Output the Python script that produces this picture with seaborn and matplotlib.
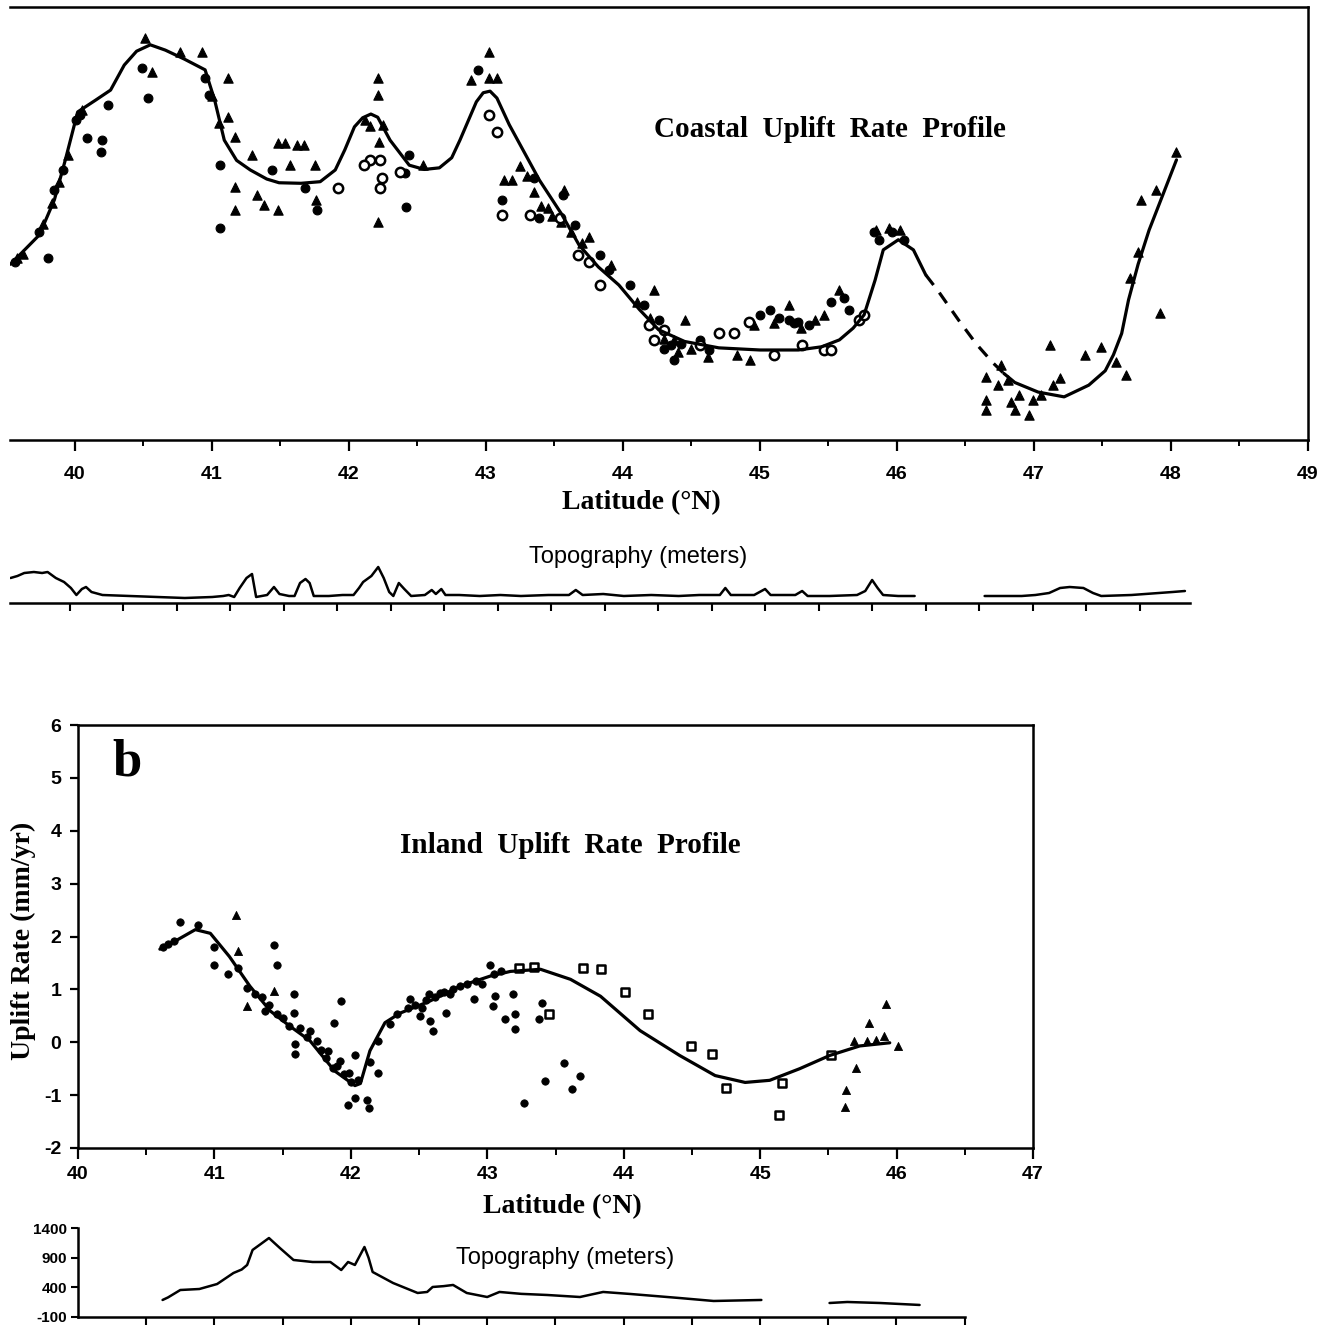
import numpy as np
import pandas as pd
import seaborn as sns
import matplotlib
matplotlib.use("Agg")
import matplotlib.pyplot as plt
from matplotlib.ticker import MultipleLocator

# ---------------- data: coastal profile (a) ----------------
coast_curve_lat = [39.53, 39.56, 39.74, 39.85, 39.93, 40.02, 40.15, 40.26, 40.36, 40.45, 40.55,
                   40.66, 40.80, 40.95, 41.02, 41.09, 41.18, 41.28, 41.40, 41.49, 41.65, 41.79,
                   41.90, 41.97, 42.04, 42.10, 42.16, 42.21, 42.30, 42.44, 42.55, 42.66, 42.75,
                   42.81, 42.88, 42.93, 42.98, 43.03, 43.08, 43.17, 43.28, 43.39, 43.55, 43.68,
                   43.82, 43.97, 44.12, 44.26, 44.45, 44.70, 45.00, 45.28, 45.45, 45.58, 45.68,
                   45.76, 45.84, 45.90, 46.01, 46.12, 46.21]
coast_curve_rate = [1.30, 1.38, 1.85, 2.51, 3.26, 4.16, 4.38, 4.57, 5.04, 5.30, 5.42,
                    5.32, 5.15, 4.95, 4.38, 3.63, 3.25, 3.07, 2.90, 2.83, 2.82, 2.85,
                    3.07, 3.45, 3.88, 4.05, 4.12, 4.06, 3.63, 3.16, 3.08, 3.11, 3.30,
                    3.63, 4.05, 4.35, 4.52, 4.55, 4.42, 3.92, 3.40, 2.88, 2.25, 1.66,
                    1.25, 0.91, 0.45, 0.07, -0.15, -0.27, -0.31, -0.31, -0.25, -0.12, 0.10,
                    0.35, 1.00, 1.57, 1.76, 1.57, 1.10]
coast_gap_lat = [46.21, 46.30, 46.45, 46.58, 46.70, 46.78]
coast_gap_rate = [1.10, 0.80, 0.25, -0.20, -0.55, -0.75]
coast_end_lat = [46.78, 46.86, 47.03, 47.22, 47.40, 47.52, 47.58, 47.64, 47.69, 47.76, 47.84,
                 47.94, 48.04]
coast_end_rate = [-0.75, -0.92, -1.10, -1.19, -0.97, -0.70, -0.40, 0.00, 0.63, 1.30, 1.94,
                  2.60, 3.26]

coast_tri_lat = [40.51, 40.56, 40.77, 40.93, 41.12, 41.12, 41.17, 41.29, 41.17, 41.17, 41.33,
                 41.38, 41.48, 41.48, 41.53, 41.62, 41.67, 41.57, 41.75, 41.76, 42.21, 42.21,
                 42.25, 42.22, 42.21, 42.54, 43.02, 42.89, 43.02, 43.08, 43.13, 43.19, 43.57,
                 43.75, 43.91, 44.23, 44.45, 44.93, 44.37, 44.83, 45.58, 45.47, 45.21, 44.96,
                 45.85, 45.94, 46.02, 46.65, 46.65, 46.65, 46.74, 46.76, 46.81, 46.83, 46.86,
                 46.96, 46.89, 46.99, 47.05, 47.14, 47.12, 47.19, 47.37, 47.49, 47.67, 47.60,
                 47.70, 47.76, 47.78, 47.89, 47.92, 48.04,
                 39.58, 39.62, 39.77, 39.83, 39.88, 39.95, 40.05, 41.00, 41.05, 43.25, 43.30,
                 43.35, 43.45, 43.55, 43.62, 43.70, 44.10, 44.20, 44.30, 44.40, 44.50, 44.62,
                 42.12, 42.15, 43.40, 43.48, 45.10, 45.30, 45.40]
coast_tri_rate = [5.55, 4.91, 5.29, 5.29, 4.80, 4.07, 3.69, 3.35, 2.75, 2.32, 2.60,
                  2.41, 2.32, 3.58, 3.58, 3.54, 3.54, 3.16, 3.16, 2.51, 4.80, 4.48,
                  3.92, 3.60, 2.09, 3.16, 5.29, 4.76, 4.80, 4.80, 2.88, 2.88, 2.69,
                  1.81, 1.29, 0.82, 0.25, -0.50, -0.12, -0.40, 0.82, 0.35, 0.54, 0.16,
                  1.94, 1.98, 1.94, -0.82, -1.25, -1.44, -0.97, -0.59, -0.87, -1.29, -1.44,
                  -1.53, -1.15, -1.25, -1.15, -0.97, -0.22, -0.84, -0.40, -0.25, -0.78, -0.54,
                  1.04, 1.53, 2.51, 2.69, 0.38, 3.41,
                  1.42, 1.50, 2.05, 2.45, 2.85, 3.35, 4.20, 4.45, 3.95, 3.15, 2.95,
                  2.65, 2.35, 2.10, 1.90, 1.70, 0.60, 0.30, -0.10, -0.35, -0.30, -0.45,
                  4.00, 3.90, 2.40, 2.20, 0.20, 0.10, 0.25]

coast_dot_lat = [39.56, 39.80, 39.74, 39.85, 39.91, 40.01, 40.04, 40.24, 40.20, 40.09, 40.19,
                 40.49, 40.53, 40.95, 40.98, 41.06, 41.06, 41.44, 41.68, 41.77, 42.41, 42.42,
                 42.44, 42.94, 43.12, 43.35, 43.39, 43.56, 43.65, 43.83, 43.90, 44.05, 44.15,
                 44.26, 44.35, 44.37, 44.56, 44.63, 45.07, 45.14, 45.21, 45.28, 45.36, 45.52,
                 45.61, 45.65, 45.83, 45.87, 45.96, 46.05, 44.30, 44.42, 45.00, 45.25]
coast_dot_rate = [1.34, 1.42, 1.91, 2.69, 3.07, 4.01, 4.10, 4.29, 3.63, 3.67, 3.41,
                  4.99, 4.42, 4.80, 4.48, 3.16, 1.98, 3.07, 2.73, 2.32, 3.01, 2.38,
                  3.35, 4.95, 2.51, 2.92, 2.17, 2.60, 2.04, 1.47, 1.19, 0.91, 0.54,
                  0.25, -0.22, -0.50, -0.12, -0.31, 0.44, 0.29, 0.25, 0.22, 0.16, 0.59,
                  0.67, 0.44, 1.91, 1.76, 1.91, 1.76, -0.30, -0.20, 0.35, 0.20]

coast_open_lat = [41.92, 42.15, 42.11, 42.23, 42.24, 42.23, 42.37, 43.02, 43.08, 43.12, 43.32,
                  43.54, 43.67, 43.75, 43.83, 44.19, 44.23, 44.30, 44.56, 44.70, 44.81, 44.92,
                  45.10, 45.31, 45.47, 45.52, 45.72, 45.76]
coast_open_rate = [2.73, 3.26, 3.16, 3.26, 2.92, 2.73, 3.03, 4.10, 3.78, 2.23, 2.23,
                   2.17, 1.47, 1.34, 0.91, 0.16, -0.12, 0.07, -0.22, 0.01, 0.01, 0.22,
                   -0.40, -0.22, -0.31, -0.31, 0.25, 0.35]

coast_topo_lat = [39.53, 39.58, 39.63, 39.70, 39.76, 39.80, 39.86, 39.92, 39.97, 40.01, 40.05,
                  40.08, 40.12, 40.20, 40.40, 40.60, 40.80, 41.00, 41.08, 41.12, 41.16, 41.20,
                  41.25, 41.29, 41.32, 41.40, 41.45, 41.49, 41.56, 41.60, 41.64, 41.68, 41.71,
                  41.74, 41.85, 41.95, 42.03, 42.07, 42.10, 42.16, 42.21, 42.25, 42.29, 42.32,
                  42.36, 42.40, 42.45, 42.55, 42.60, 42.63, 42.67, 42.70, 42.80, 42.95, 43.10,
                  43.25, 43.45, 43.60, 43.65, 43.70, 43.85, 44.00, 44.20, 44.40, 44.55, 44.70,
                  44.74, 44.78, 44.95, 45.03, 45.07, 45.25, 45.30, 45.34, 45.50, 45.70, 45.76,
                  45.81, 45.85, 45.89, 46.00, 46.12]
coast_topo_m = [400, 440, 500, 520, 500, 520, 400, 320, 200, 60, 180,
                220, 120, 60, 40, 20, 0, 20, 40, 60, 20, 200,
                400, 480, 20, 60, 220, 80, 40, 40, 300, 380, 300,
                40, 40, 60, 60, 200, 320, 440, 620, 400, 120, 40,
                300, 180, 40, 60, 160, 80, 180, 60, 60, 40, 60,
                40, 60, 60, 160, 60, 80, 40, 60, 40, 60, 60,
                200, 60, 60, 180, 60, 60, 140, 40, 40, 60, 140,
                360, 200, 60, 40, 40]
coast_topo2_lat = [46.63, 46.90, 47.00, 47.10, 47.18, 47.25, 47.35, 47.42, 47.48, 47.70, 47.90,
                   48.00, 48.09]
coast_topo2_m = [40, 40, 60, 100, 200, 220, 200, 100, 40, 60, 100, 120, 140]

# ---------------- data: inland profile (b) ----------------
inland_curve_lat = [40.60, 40.71, 40.86, 40.97, 41.11, 41.26, 41.41, 41.55, 41.70, 41.88, 42.03,
                    42.07, 42.14, 42.25, 42.36, 42.58, 42.80, 43.02, 43.17, 43.39, 43.61, 43.83,
                    44.12, 44.41, 44.67, 44.89, 45.07, 45.29, 45.51, 45.73, 45.95]
inland_curve_rate = [1.76, 1.91, 2.13, 2.06, 1.62, 1.06, 0.59, 0.31, 0.03, -0.54, -0.82,
                     -0.78, -0.16, 0.37, 0.55, 0.78, 1.06, 1.25, 1.34, 1.38, 1.19, 0.87,
                     0.22, -0.25, -0.63, -0.76, -0.72, -0.50, -0.25, -0.07, -0.01]

inland_dot_lat = [40.62, 40.66, 40.70, 40.75, 40.88, 41.00, 41.00, 41.10, 41.17, 41.24, 41.30,
                  41.37, 41.44, 41.46, 41.46, 41.58, 41.58, 41.59, 41.59, 41.63, 41.70, 41.75,
                  41.83, 41.88, 41.93, 41.87, 41.92, 41.99, 42.03, 42.05, 41.98, 42.03, 42.12,
                  42.13, 42.14, 42.20, 42.20, 42.29, 42.34, 42.43, 42.51, 42.52, 42.58, 42.60,
                  42.57, 42.65, 42.70, 42.73, 42.80, 42.90, 42.96, 43.02, 43.04, 43.06, 43.13,
                  43.19, 43.20, 43.20, 43.38, 43.40, 43.56, 43.68, 43.62, 43.42, 43.27,
                  41.35, 41.40, 41.50, 41.55, 41.68, 41.78, 41.82, 41.90, 41.95, 42.00, 42.42,
                  42.47, 42.55, 42.62, 42.68, 42.75, 42.85, 42.92, 43.05, 43.10]
inland_dot_rate = [1.80, 1.85, 1.92, 2.28, 2.21, 1.81, 1.47, 1.29, 1.40, 1.02, 0.91,
                   0.59, 1.83, 1.47, 0.54, 0.91, 0.55, -0.03, -0.22, 0.27, 0.22, 0.03,
                   -0.16, 0.37, 0.78, -0.48, -0.35, -0.59, -0.25, -0.72, -1.19, -1.06, -1.10,
                   -1.25, -0.38, -0.59, 0.03, 0.35, 0.54, 0.82, 0.50, 0.65, 0.40, 0.22,
                   0.91, 0.93, 0.55, 0.91, 1.06, 0.82, 1.10, 1.47, 0.69, 0.87, 0.44,
                   0.91, 0.54, 0.25, 0.44, 0.74, -0.40, -0.63, -0.89, -0.74, -1.15,
                   0.85, 0.70, 0.45, 0.30, 0.10, -0.15, -0.30, -0.45, -0.60, -0.75, 0.65,
                   0.70, 0.80, 0.85, 0.95, 1.00, 1.10, 1.15, 1.30, 1.35]
inland_tri_lat = [41.16, 41.17, 41.24, 41.44, 45.62, 45.63, 45.69, 45.78, 45.80, 45.92, 45.91,
                  46.01, 45.70, 45.85]
inland_tri_rate = [2.41, 1.72, 0.69, 0.97, -1.23, -0.91, 0.03, 0.03, 0.37, 0.72, 0.12,
                   -0.07, -0.48, 0.05]
inland_sq_lat = [43.23, 43.34, 43.45, 43.70, 43.83, 44.01, 44.18, 44.49, 44.65, 44.75, 45.14,
                 45.16, 45.52]
inland_sq_rate = [1.40, 1.42, 0.54, 1.40, 1.38, 0.95, 0.54, -0.07, -0.22, -0.87, -1.38,
                  -0.78, -0.25]

inland_topo_lat = [40.62, 40.66, 40.75, 40.89, 41.02, 41.14, 41.20, 41.24, 41.28, 41.34, 41.40,
                   41.48, 41.58, 41.72, 41.85, 41.93, 41.98, 42.03, 42.07, 42.10, 42.13, 42.16,
                   42.31, 42.49, 42.56, 42.60, 42.68, 42.75, 42.85, 43.00, 43.09, 43.25, 43.44,
                   43.68, 43.85, 44.05, 44.41, 44.66, 45.01]
inland_topo_m = [187, 230, 355, 372, 456, 642, 700, 777, 1030, 1130, 1231,
                 1063, 861, 827, 827, 692, 827, 777, 950, 1080, 900, 659,
                 473, 305, 322, 406, 420, 440, 305, 237, 322, 290, 271,
                 237, 322, 288, 220, 170, 187]
inland_topo2_lat = [45.51, 45.64, 45.88, 46.17]
inland_topo2_m = [136, 153, 136, 103]

# ---------------- figure ----------------
sns.set_theme(style="white")
plt.rcParams["font.family"] = ["Liberation Sans", "DejaVu Sans"]
plt.rcParams["axes.linewidth"] = 1.8
plt.rcParams["text.color"] = "black"
plt.rcParams["xtick.color"] = "black"
plt.rcParams["ytick.color"] = "black"
plt.rcParams["axes.edgecolor"] = "black"

fig = plt.figure(figsize=(13.24, 13.28), dpi=100)
W, H = 1324, 1328


def rect(x0, y0, x1, y1):
    # pixel box of the reference -> figure fraction
    return [x0 / W, 1 - y1 / H, (x1 - x0) / W, (y1 - y0) / H]


serif = dict(family="Liberation Serif", fontweight="bold", color="black")
tickfont = dict(family="Liberation Sans", weight="bold", size=14, color="black")

# ----- (a) coastal -----
ax1 = fig.add_axes(rect(10, 7, 1308, 440))
sns.lineplot(x=coast_curve_lat, y=coast_curve_rate, sort=False, estimator=None,
             color="black", lw=2.3, ax=ax1)
sns.lineplot(x=coast_gap_lat, y=coast_gap_rate, sort=False, estimator=None,
             color="black", lw=2.3, linestyle=(0, (4, 3)), ax=ax1)
sns.lineplot(x=coast_end_lat, y=coast_end_rate, sort=False, estimator=None,
             color="black", lw=2.3, ax=ax1)
sns.scatterplot(x=coast_tri_lat, y=coast_tri_rate, marker="^", s=45, color="black",
                edgecolor="black", linewidth=0.8, ax=ax1)
sns.scatterplot(x=coast_dot_lat, y=coast_dot_rate, marker="o", s=40, color="black",
                edgecolor="black", linewidth=0.8, ax=ax1)
sns.scatterplot(x=coast_open_lat, y=coast_open_rate, marker="o", s=45, facecolor="white",
                edgecolor="black", linewidth=1.8, ax=ax1)
ax1.set_xlim(39.526, 49.0)
ax1.set_ylim(-2.0, 6.13)
ax1.spines["left"].set_visible(False)
ax1.set_yticks([])
ax1.xaxis.set_major_locator(MultipleLocator(1))
ax1.xaxis.set_minor_locator(MultipleLocator(0.5))
ax1.tick_params(axis="x", which="major", direction="out", length=8, width=1.6,
                color="black", pad=11, bottom=True)
ax1.tick_params(axis="x", which="minor", direction="out", length=4, width=1.4,
                color="black", bottom=True)
ax1.set_xticks(range(40, 50))
ax1.set_xticklabels([str(v) for v in range(40, 50)], fontdict=tickfont)
ax1.text(0.6317, 0.716, "Coastal  Uplift  Rate  Profile", transform=ax1.transAxes,
         ha="center", va="center", size=21, **serif)
ax1.text((641 - 10) / 1298, (440 - 503) / 433, "Latitude (°N)", transform=ax1.transAxes,
         ha="center", va="center", size=20, **serif)

# topography strip under (a)
ax1t = fig.add_axes(rect(10, 551, 1190, 603))
sns.lineplot(x=coast_topo_lat, y=coast_topo_m, sort=False, estimator=None,
             color="black", lw=1.8, ax=ax1t)
sns.lineplot(x=coast_topo2_lat, y=coast_topo2_m, sort=False, estimator=None,
             color="black", lw=1.8, ax=ax1t)
ax1t.set_xlim(39.526, 48.127)
ax1t.set_ylim(-100, 940)
for s in ["left", "top", "right"]:
    ax1t.spines[s].set_visible(False)
ax1t.set_yticks([])
ax1t.set_xticks(np.arange(39.96, 48.13, 0.39))
ax1t.set_xticklabels([])
ax1t.tick_params(axis="x", direction="out", length=6, width=1.5, color="black", bottom=True)
fig.text(638 / W, 1 - 557 / H, "Topography (meters)", ha="center", va="center",
         size=17, family="Liberation Sans", color="black")

# ----- (b) inland -----
ax2 = fig.add_axes(rect(78, 725, 1033, 1148))
sns.lineplot(x=inland_curve_lat, y=inland_curve_rate, sort=False, estimator=None,
             color="black", lw=2.3, ax=ax2)
sns.scatterplot(x=inland_dot_lat, y=inland_dot_rate, marker="o", s=28, color="black",
                edgecolor="black", linewidth=0.6, ax=ax2)
sns.scatterplot(x=inland_tri_lat, y=inland_tri_rate, marker="^", s=34, color="black",
                edgecolor="black", linewidth=0.6, ax=ax2)
sns.scatterplot(x=inland_sq_lat, y=inland_sq_rate, marker="s", s=26, facecolor="white",
                edgecolor="black", linewidth=1.8, ax=ax2)
ax2.set_xlim(40, 47)
ax2.set_ylim(-2, 6)
ax2.set_xticks(range(40, 48))
ax2.set_xticklabels([str(v) for v in range(40, 48)], fontdict=tickfont)
ax2.xaxis.set_minor_locator(MultipleLocator(0.5))
ax2.set_yticks(range(-2, 7))
ax2.set_yticklabels([str(v) for v in range(-2, 7)], fontdict=tickfont)
ax2.tick_params(axis="x", which="major", direction="out", length=8, width=1.6,
                color="black", pad=5, bottom=True)
ax2.tick_params(axis="x", which="minor", direction="out", length=5, width=1.4,
                color="black", bottom=True)
ax2.tick_params(axis="y", direction="out", length=6, width=1.6, color="black",
                pad=6, left=True)
ax2.text(0.0513, 0.9125, "b", transform=ax2.transAxes, ha="center", va="center",
         size=38, **serif)
ax2.text(0.516, 0.716, "Inland  Uplift  Rate  Profile", transform=ax2.transAxes,
         ha="center", va="center", size=21, **serif)
ax2.text(0.507, (1148 - 1207) / 423, "Latitude (°N)", transform=ax2.transAxes,
         ha="center", va="center", size=20, **serif)
ax2.text((23 - 78) / 955, 0.49, "Uplift Rate (mm/yr)", transform=ax2.transAxes,
         ha="center", va="center", rotation=90, size=20, **serif)

# topography strip under (b)
ax2t = fig.add_axes(rect(78, 1228, 965, 1317))
sns.lineplot(x=inland_topo_lat, y=inland_topo_m, sort=False, estimator=None,
             color="black", lw=1.8, ax=ax2t)
sns.lineplot(x=inland_topo2_lat, y=inland_topo2_m, sort=False, estimator=None,
             color="black", lw=1.8, ax=ax2t)
ax2t.set_xlim(40, 46.503)
ax2t.set_ylim(-100, 1400)
for s in ["top", "right"]:
    ax2t.spines[s].set_visible(False)
ax2t.set_yticks([-100, 400, 900, 1400])
ax2t.set_yticklabels(["-100", "400", "900", "1400"],
                     fontdict=dict(family="Liberation Sans", weight="bold", size=11,
                                   color="black"))
ax2t.set_xticks(np.arange(40.5, 46.6, 0.5))
ax2t.set_xticklabels([])
ax2t.tick_params(axis="x", direction="out", length=6, width=1.5, color="black", bottom=True)
ax2t.tick_params(axis="y", direction="out", length=5, width=1.5, color="black",
                 pad=3, left=True)
ax2t.text(0.549, 0.663, "Topography (meters)", transform=ax2t.transAxes, ha="center",
          va="center", size=17, family="Liberation Sans", color="black")

fig.savefig("out.png", dpi=100, facecolor="white")
